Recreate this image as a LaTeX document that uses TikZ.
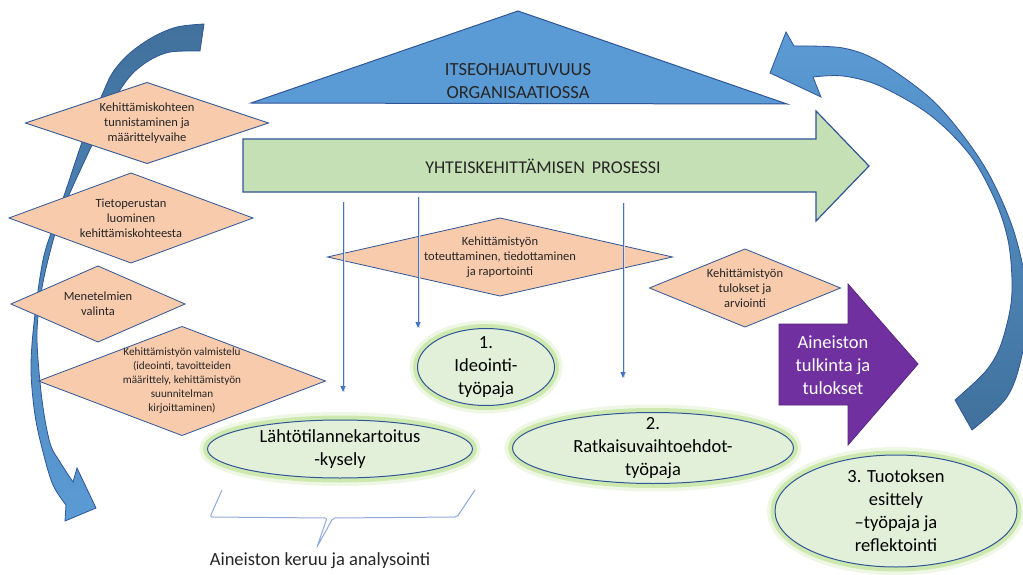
\documentclass[tikz,border=0pt]{standalone}
\usepackage{fontspec}
\setmainfont{Carlito}
\usetikzlibrary{shapes.geometric,arrows.meta}
\definecolor{trifill}{HTML}{5B9BD5}
\definecolor{edgec}{HTML}{2F5597}
\definecolor{procfill}{HTML}{C5E0B4}
\definecolor{diafill}{HTML}{F8CBAD}
\definecolor{ellfill}{HTML}{E2F0D9}
\definecolor{glowc}{HTML}{92D050}
\definecolor{purp}{HTML}{7030A0}
\definecolor{purpedge}{HTML}{5A2480}
\definecolor{darkblue}{HTML}{41719C}
\definecolor{thinc}{HTML}{4472C4}
\definecolor{bracec}{HTML}{8FAADC}
\definecolor{txt}{HTML}{262626}
\tikzset{
  dia/.style={diamond, draw=edgec, fill=diafill, line width=0.8pt, inner sep=0pt, outer sep=0pt},
  dtext/.style={font=\fontsize{12.5}{15}\selectfont, align=center, text=txt, inner sep=0pt},
  dsmall/.style={font=\fontsize{11.2}{14}\selectfont, align=center, text=txt, inner sep=0pt},
  ell/.style={ellipse, draw=edgec, fill=ellfill, line width=1pt, inner sep=0pt, outer sep=0pt,
    preaction={draw=glowc, line width=16pt, draw opacity=0.15},
    preaction={draw=glowc, line width=9pt, draw opacity=0.35}},
  etext/.style={font=\fontsize{18.5}{23}\selectfont, align=center, text=black, inner sep=0pt},
  bigtext/.style={font=\fontsize{18.5}{23}\selectfont, align=center, text=txt, inner sep=0pt},
  thinarr/.style={draw=thinc, line width=0.8pt, -{Triangle[width=5pt,length=6pt]},
    preaction={draw=black!12, line width=1.6pt, -, transform canvas={xshift=1.5pt}}},
  curved/.style={draw=edgec, line width=0.8pt},
}
\begin{document}
\begin{tikzpicture}[x=1pt,y=-1pt]
\useasboundingbox (0,0) rectangle (1023,575);
\clip (0,0) rectangle (1023,575);
\fill[white] (0,0) rectangle (1023,575);

% left curved arrow
\path[curved, top color=darkblue, bottom color=trifill]
  plot[smooth, tension=0.55] coordinates {(204,24) (177,27) (153,37) (130,53) (113,72) (102,95) (84,137) (67,187) (55,222) (43,260) (34,323) (31,370) (35,415) (43,452) (53,485) (66,505)}
  -- (65,521) -- (96,508) -- (77,468)
  -- plot[smooth, tension=0.55] coordinates {(73,482) (60,462) (50,443) (42,400) (37,340) (40,300) (48,260) (62,212) (85,160) (108,112) (120,90) (133,73) (150,60) (170,52) (200,51)}
  -- cycle;

% right curved arrow
\path[curved, top color=trifill, bottom color=darkblue]
  plot[smooth, tension=0.55] coordinates {(955,400) (985,372) (1000,347) (1010,310) (1012,280) (1008,240) (995,200) (970,155) (930,115) (880,86) (843,76) (813,77)}
  -- (821,97) -- (770,73) -- (786,32)
  -- plot[smooth, tension=0.55] coordinates {(794,46) (843,48) (880,62) (930,98) (965,138) (992,180) (1015,235) (1028,300) (1022,355) (1007,397) (972,430)}
  -- cycle;

% triangle
\draw[fill=trifill, draw=edgec, line width=1pt] (251,103) -- (518,11) -- (787,104) -- cycle;
\node[bigtext] (org) at (518,81) {ITSEOHJAUTUVUUS\\ORGANISAATIOSSA};

% process arrow
\draw[fill=procfill, draw=edgec, line width=1.2pt] (243,139) -- (816,139) -- (816,111) -- (869,166) -- (816,221) -- (816,192) -- (243,192) -- cycle;
\node[bigtext, font=\fontsize{18}{22}\selectfont] (proc) at (543,166) {YHTEISKEHITTÄMISEN\ \,PROSESSI};

% purple arrow
\draw[fill=purp, draw=purpedge, line width=0.8pt] (779,324) -- (848,324) -- (848,284) -- (918,364) -- (848,445) -- (848,405) -- (779,405) -- cycle;
\node[etext, text=white] (tulk) at (833,365) {Aineiston\\tulkinta ja\\tulokset};

% diamonds
\node[dia, minimum width=243pt, minimum height=81pt,
  label={[dtext]center:{Kehittämiskohteen\\tunnistaminen ja\\määrittelyvaihe}}] (d1) at (147,123) {};
\node[dia, minimum width=244pt, minimum height=90pt,
  label={[dtext]center:{Tietoperustan\\luominen\\kehittämiskohteesta}}] (d2) at (131,218) {};
\node[dia, minimum width=174pt, minimum height=76pt,
  label={[dtext]center:{Menetelmien\\valinta}}] (d3) at (98,304) {};
\node[dia, minimum width=287pt, minimum height=109pt,
  label={[dsmall]center:{Kehittämistyön valmistelu\\(ideointi, tavoitteiden\\määrittely, kehittämistyön\\suunnitelman\\kirjoittaminen)}}] (d4) at (182,381) {};
\node[dia, minimum width=345pt, minimum height=78pt,
  label={[dtext]center:{Kehittämistyön\\toteuttaminen, tiedottaminen\\ja raportointi}}] (d5) at (500,257) {};
\node[dia, minimum width=191pt, minimum height=78pt,
  label={[dtext]center:{Kehittämistyön\\tulokset ja\\arviointi}}] (d6) at (745,288) {};

% thin arrows
\coordinate (a1s) at (343,202);
\coordinate (a1e) at (343,392);
\coordinate (a2s) at (418,197);
\coordinate (a2e) at (418,328);
\coordinate (a3s) at (623,203);
\coordinate (a3e) at (623,378);
\draw[thinarr] (a1s) -- (a1e);
\draw[thinarr] (a2s) -- (a2e);
\draw[thinarr] (a3s) -- (a3e);

% ellipses
\node[ell, minimum width=137pt, minimum height=77pt,
  label={[etext]center:{1.\\Ideointi-\\työpaja}}] (e1) at (486,367) {};
\node[ell, minimum width=265pt, minimum height=58pt,
  label={[etext]center:{Lähtötilannekartoitus\\-kysely}}] (e2) at (340,449) {};
\node[ell, minimum width=281pt, minimum height=71pt,
  label={[etext]center:{2.\\Ratkaisuvaihtoehdot-\\työpaja}}] (e3) at (653,448) {};
\node[ell, minimum width=242pt, minimum height=112pt,
  label={[etext]center:{3. Tuotoksen\\esittely\\–työpaja ja\\reflektointi}}] (e4) at (896,511) {};

% brace
\coordinate (b1) at (222,490);
\coordinate (b2) at (475,490);
\draw[bracec, line width=1pt, rounded corners=2pt] (b1) -- (210,517) -- (327,518) -- (317,547) -- (333,518) -- (457,517) -- (b2);
\node[etext, text=txt] (keruu) at (320,561) {Aineiston keruu ja analysointi};
\end{tikzpicture}
\end{document}
